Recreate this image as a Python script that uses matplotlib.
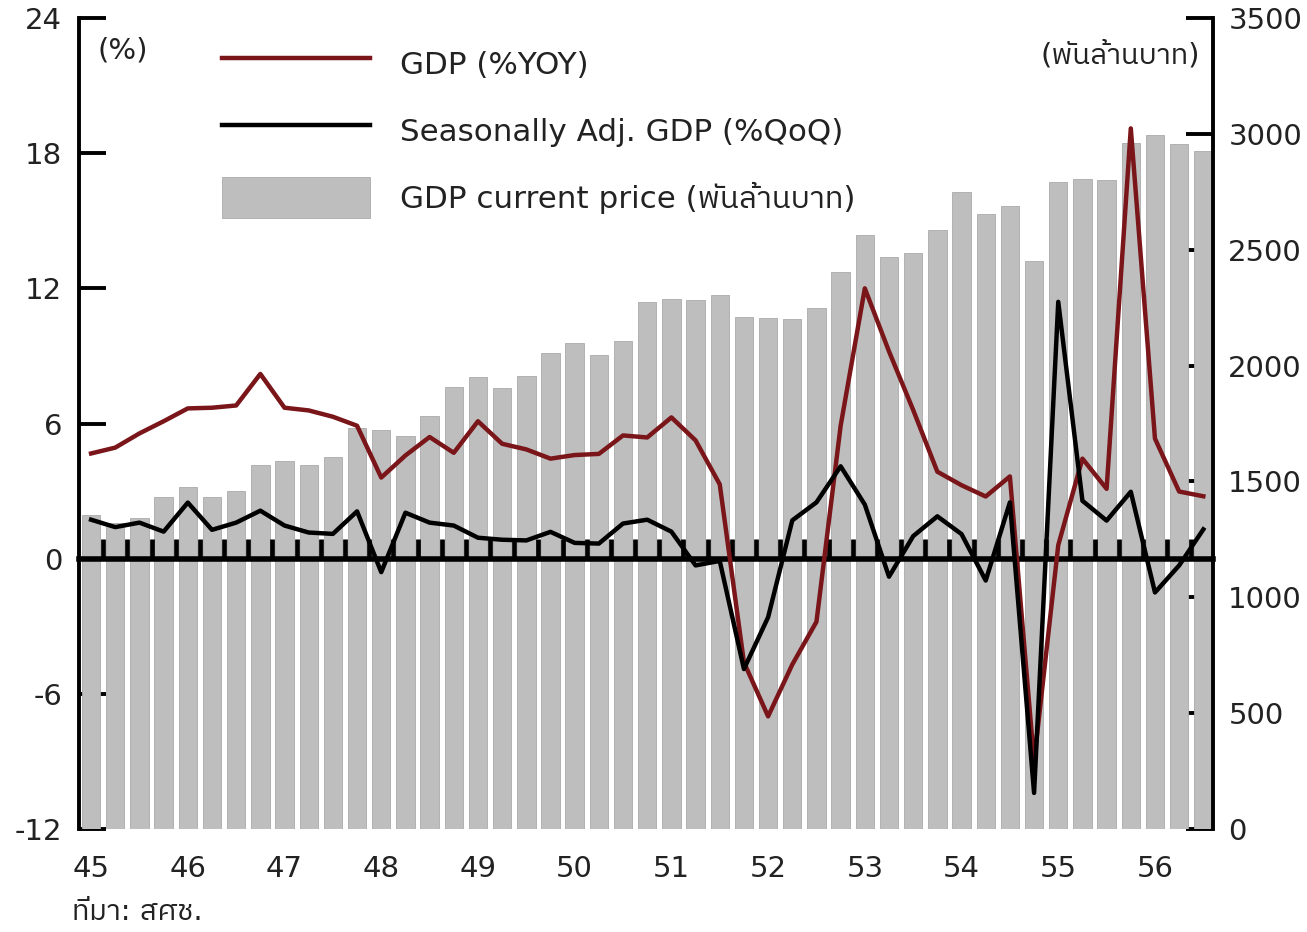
import matplotlib
matplotlib.use('Agg')
import matplotlib.pyplot as plt
from matplotlib import font_manager
from matplotlib.ft2font import FT2Font
from matplotlib.lines import Line2D
from matplotlib.patches import Patch
import numpy as np

# ---------------- data ----------------
year_labels = ['45', '46', '47', '48', '49', '50', '51', '52', '53', '54', '55', '56']

# GDP current price (billion baht), quarterly 45Q1 .. 56Q3
gdp_value = [1355, 1320, 1342, 1433, 1476, 1433, 1459, 1571, 1588, 1571,
             1606, 1731, 1722, 1696, 1782, 1908, 1951, 1903, 1955, 2054,
             2097, 2046, 2106, 2275, 2287, 2283, 2305, 2210, 2205, 2201,
             2249, 2404, 2564, 2470, 2486, 2586, 2749, 2654, 2689, 2451,
             2793, 2807, 2801, 2962, 2995, 2956, 2924]

# GDP %YoY
gdp_yoy = [4.67, 4.93, 5.56, 6.1, 6.67, 6.7, 6.8, 8.2, 6.7, 6.58,
           6.3, 5.9, 3.6, 4.58, 5.4, 4.7, 6.1, 5.1, 4.85, 4.44,
           4.6, 4.65, 5.47, 5.38, 6.27, 5.25, 3.3, -4.6, -7.0, -4.7,
           -2.8, 5.9, 12.0, 9.2, 6.6, 3.86, 3.26, 2.76, 3.65, -9.0,
           0.6, 4.44, 3.1, 19.1, 5.33, 2.98, 2.77]

# Seasonally adjusted GDP %QoQ
gdp_qoq = [1.73, 1.4, 1.6, 1.2, 2.49, 1.28, 1.6, 2.13, 1.47, 1.16,
           1.1, 2.1, -0.6, 2.04, 1.6, 1.47, 0.93, 0.84, 0.81, 1.19,
           0.7, 0.67, 1.56, 1.73, 1.2, -0.3, -0.1, -4.9, -2.6, 1.7,
           2.5, 4.1, 2.4, -0.8, 1.0, 1.88, 1.09, -0.97, 2.5, -10.4,
           11.4, 2.57, 1.69, 2.97, -1.5, -0.3, 1.3]

legend_labels = ['GDP (%YOY)', 'Seasonally Adj. GDP (%QoQ)',
                 'GDP current price (พันล้านบาท)']

# ---------------- fonts ----------------
def find_thai_family():
    found = []
    for f in font_manager.fontManager.ttflist:
        try:
            cmap = FT2Font(f.fname).get_charmap()
        except Exception:
            continue
        if 0x0E1E in cmap and 0x0E32 in cmap and 0x0E17 in cmap:
            found.append(f.name)
    if not found:
        return None
    for key in ('Thai', 'Tahoma', 'Loma', 'Tlwg', 'Garuda', 'Norasi'):
        for name in found:
            if key.lower() in name.lower():
                return name
    return found[0]

thai = find_thai_family()
families = ['DejaVu Sans'] + ([thai] if thai else [])
plt.rcParams['font.family'] = families
plt.rcParams['axes.unicode_minus'] = False

RED = '#7A1519'
BAR = '#BEBEBE'
TXT = '#222222'

# ---------------- figure ----------------
W, H = 1307, 932
fig = plt.figure(figsize=(W / 100, H / 100), dpi=100)
L, R, T, B = 79, 1213, 18, 829
ax = fig.add_axes([L / W, 1 - B / H, (R - L) / W, (B - T) / H])
ax2 = ax.twinx()

n = len(gdp_value)
x = np.arange(n)

ymin, ymax = -12, 24
ax.set_xlim(-0.5, n - 0.6)
ax.set_ylim(ymin, ymax)
ax2.set_ylim(0, 3500)

# bars (right axis)
ax2.bar(x, gdp_value, width=0.76, color=BAR, edgecolor='#AAAAAA',
        linewidth=0.6, zorder=1)

# lines (left axis scale, drawn above bars)
ax2.plot(x, gdp_yoy, color=RED, lw=3.2, transform=ax.transData, zorder=4)
ax2.plot(x, gdp_qoq, color='black', lw=3.2, transform=ax.transData, zorder=4)

# spines
for s in ('top', 'right', 'bottom'):
    ax.spines[s].set_visible(False)
ax.spines['left'].set_linewidth(2.8)
for s in ('top', 'left'):
    ax2.spines[s].set_visible(False)
ax2.spines['right'].set_linewidth(2.8)
ax2.spines['bottom'].set_position(('axes', (0 - ymin) / (ymax - ymin)))
ax2.spines['bottom'].set_linewidth(4.0)
ax2.spines['bottom'].set_zorder(3)

# left ticks
ax.set_yticks([-12, -6, 0, 6, 12, 18, 24])
ax.tick_params(axis='y', direction='in', length=19.5, width=2.8,
               labelsize=21, pad=12, colors='black', labelcolor=TXT)

# right ticks (below bars)
ax2.set_yticks(range(0, 3501, 500))
ax2.tick_params(axis='y', direction='in', length=19.5, width=2.8,
                labelsize=21, pad=11, labelcolor=TXT)
ax2.yaxis.set_zorder(0.5)

# x axis: year labels at bottom, boundary ticks on the zero line
ax.set_xticks(x[::4], year_labels)
ax.set_xticks(x[:-1] + 0.5, minor=True)
ax.tick_params(axis='x', which='major', length=0, labelsize=21, pad=19,
               labelcolor=TXT)
ax.tick_params(axis='x', which='minor', length=0)
ax2.xaxis.set_visible(True)
ax2.xaxis.set_ticks_position('bottom')
ax2.tick_params(axis='x', which='major', length=0, labelbottom=False)
ax2.tick_params(axis='x', which='minor', direction='in', length=14.5,
                width=3.4, labelbottom=False)
ax2.xaxis.set_zorder(2.6)

# legend
handles = [Line2D([], [], color=RED, lw=3.2),
           Line2D([], [], color='black', lw=3.2),
           Patch(facecolor=BAR, edgecolor='#AAAAAA', linewidth=0.6)]
leg = ax2.legend(handles, legend_labels, loc='upper left',
                 bbox_to_anchor=(222 / W, 1 - 43 / H),
                 bbox_transform=fig.transFigure, frameon=False,
                 fontsize=22.3, handlelength=4.77, handleheight=1.66,
                 handletextpad=0.97, labelspacing=0.84, borderpad=0,
                 borderaxespad=0)
for t in leg.get_texts():
    t.set_color(TXT)

# annotations
fig.text(97 / W, 1 - 50 / H, '(%)', ha='left', va='center', fontsize=21,
         color=TXT)
fig.text(1200 / W, 1 - 55 / H, '(พันล้านบาท)', ha='right', va='center',
         fontsize=21, color=TXT)
fig.text(72 / W, 1 - 912 / H, 'ที่มา: สศช.', ha='left', va='center',
         fontsize=21, color=TXT)

fig.savefig('out.png', dpi=100, facecolor='white')
